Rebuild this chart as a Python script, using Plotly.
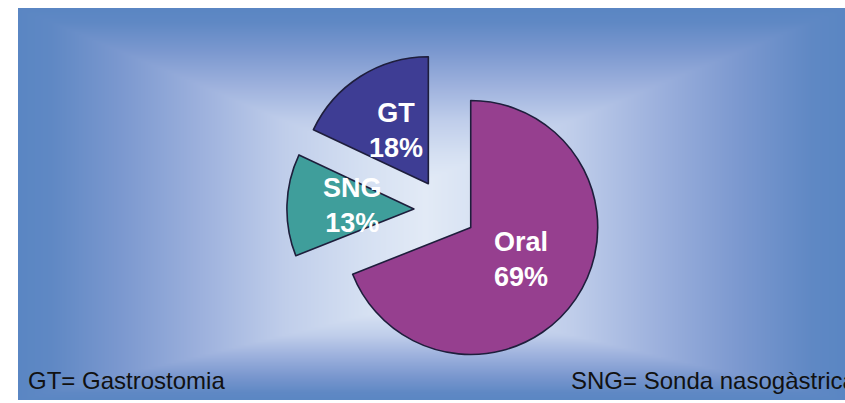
import math
import numpy as np
import plotly.graph_objects as go

# ---- data ----
labels = ["Oral", "SNG", "GT"]
values = [69, 13, 18]
slice_colors = ["#963f8f", "#3f9e9b", "#3e3d94"]
notes = ["GT= Gastrostomia", "SNG= Sonda nasogàstrica"]

# ---- layout geometry (pixels) ----
W, H = 845, 403
L, T, RR, B = 18, 8, 845, 400
PW, PH = RR - L, B - T

# background: rectangular path gradient (decoration only)
xs = np.arange(L, RR + 1, 3.0)
ys = np.arange(T, B + 1, 3.0)
X, Y = np.meshgrid(xs, ys)
fx, fty, fby = 425.0, 180.0, 300.0
s = np.minimum.reduce([
    (X - L) / (fx - L),
    (RR - X) / (RR - fx),
    (Y - T) / (fty - T),
    (B - Y) / (B - fby),
    np.ones_like(X),
])
s = np.clip(s, 0, 1)
bg_scale = [
    [0.0, "#5a86c3"],
    [0.08, "#5f88c4"],
    [0.25, "#7b98cf"],
    [0.45, "#9db1dd"],
    [0.65, "#bfcdea"],
    [0.85, "#d5e0f2"],
    [1.0, "#e2eaf6"],
]

fig = go.Figure()
fig.add_trace(go.Heatmap(
    x=xs, y=ys, z=s, colorscale=bg_scale, zmin=0, zmax=1,
    showscale=False, hoverinfo="skip", zsmooth="best",
))

# pie geometry
pcx, pcy, prad, pull = 445.0, 210.0, 127.0, 0.245
half = prad * (1 + pull)
dom_x = [(pcx - half - L) / PW, (pcx + half - L) / PW]
dom_y = [(B - (pcy + half)) / PH, (B - (pcy - half)) / PH]

fig.add_trace(go.Pie(
    labels=labels, values=values, sort=False, direction="clockwise",
    rotation=0, pull=[pull] * len(values),
    marker=dict(colors=slice_colors, line=dict(color="#1e1e3c", width=1.6)),
    textinfo="none", hoverinfo="label+percent", showlegend=False,
    domain=dict(x=dom_x, y=dom_y),
))

# slice labels placed along each slice bisector
total = sum(values)
start = 0.0
for lab, v in zip(labels, values):
    mid = math.radians(start + v / total * 360 / 2)
    d = pull * prad + 0.48 * prad
    tx = pcx + d * math.sin(mid)
    ty = pcy - d * math.cos(mid)
    fig.add_annotation(
        x=tx, y=ty - 2, xref="x", yref="y", showarrow=False,
        text=f"{lab}<br>{round(v / total * 100)}%",
        font=dict(family="Liberation Sans, Arial, sans-serif", size=27,
                  color="#ffffff", weight="bold"),
        xanchor="center", yanchor="middle",
    )
    start += v / total * 360

# footnotes
for txt, nx in zip(notes, [26, 569]):
    fig.add_annotation(
        x=nx, y=380, xref="x", yref="y", showarrow=False, text=txt,
        font=dict(family="Liberation Sans, Arial, sans-serif", size=24,
                  color="#111111"),
        xanchor="left", yanchor="middle",
    )

fig.update_xaxes(range=[L, RR], visible=False, fixedrange=True)
fig.update_yaxes(range=[B, T], visible=False, fixedrange=True)
fig.update_layout(
    width=W, height=H, margin=dict(l=L, r=W - RR, t=T, b=H - B),
    paper_bgcolor="#ffffff", plot_bgcolor="#ffffff",
)
fig.write_html("out.html")
